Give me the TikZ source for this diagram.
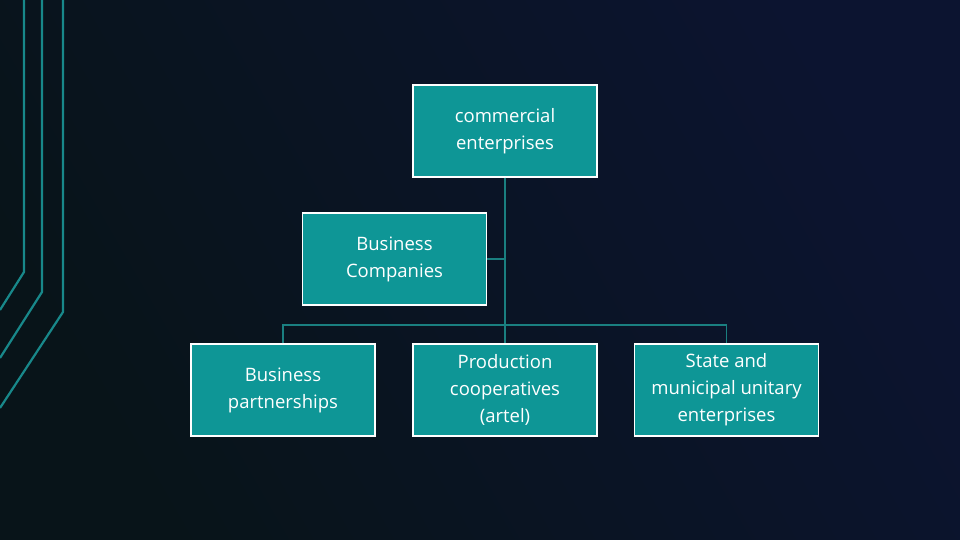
\documentclass[tikz,border=0pt]{standalone}
\usepackage{fontspec}
\setmainfont{Open Sans}
\begin{document}
\begin{tikzpicture}[x=1pt,y=-1pt,
  box/.style={draw=white,line width=1.2pt,fill=boxteal,text=white,minimum width=184pt,minimum height=92pt,align=center,font=\fontsize{18.5}{27}\selectfont,inner sep=1pt},
  conn/.style={draw=lineteal,line width=1.3pt},
  deco/.style={draw=decoteal,line width=2.2pt}]
\definecolor{boxteal}{HTML}{0E9696}
\definecolor{lineteal}{HTML}{1A7F80}
\definecolor{decoteal}{HTML}{18888A}
\definecolor{bgA}{HTML}{081419}
\definecolor{bgB}{HTML}{0C1430}
\shade[left color=bgA,right color=bgB,shading angle=120] (0,0) rectangle (960,540);
\useasboundingbox (0,0) rectangle (960,540);
\draw[deco] (24,0) -- (24,272) -- (0,310);
\draw[deco] (42,0) -- (42,292) -- (0,358);
\draw[deco] (63,0) -- (63,312) -- (0,408);
\node[box] (ce) at (505,131) {commercial\\enterprises};
\node[box] (bc) at (394.5,259) {Business\\Companies};
\node[box] (bp) at (283,390) {Business\\partnerships};
\node[box] (pc) at (505,390) {Production\\cooperatives\\(artel)};
\node[box] (su) at (726.5,390) {State and\\municipal unitary\\enterprises};
\coordinate (j) at (505,325);
\draw[conn] (ce.south) -- (j);
\draw[conn] (bc.east) -- (505,259);
\draw[conn] (bp.north) |- (j) -| (su.north);
\draw[conn] (j) -- (pc.north);
\end{tikzpicture}
\end{document}
